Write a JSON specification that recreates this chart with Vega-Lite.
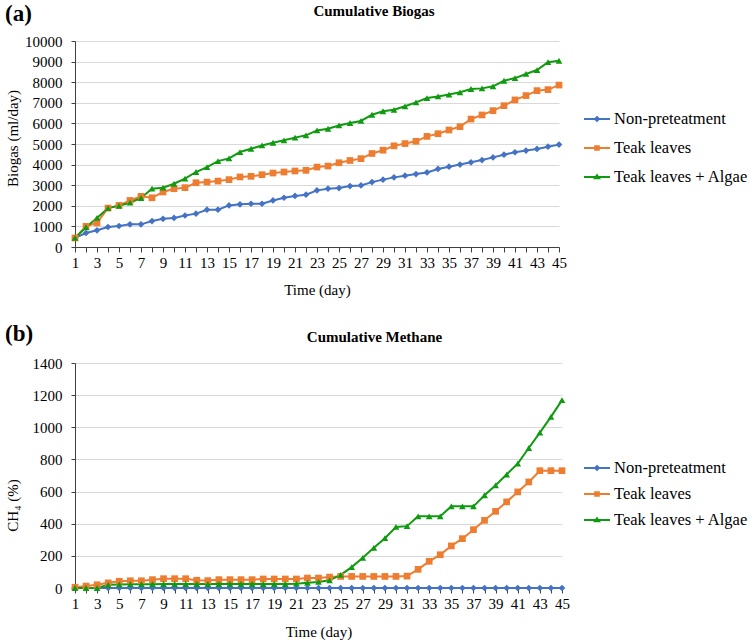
{
"$schema":"https://vega.github.io/schema/vega-lite/v6.json",
"padding":{"left":5,"top":3,"right":5,"bottom":3},
"spacing":26,
"resolve":{"scale":{"color":"independent","shape":"independent"},"legend":{"color":"independent","shape":"independent"}},
"datasets":{
"biogas":[
{"day":1,"series":"Non-preteatment","value":440},{"day":2,"series":"Non-preteatment","value":680},{"day":3,"series":"Non-preteatment","value":810},{"day":4,"series":"Non-preteatment","value":970},{"day":5,"series":"Non-preteatment","value":1020},{"day":6,"series":"Non-preteatment","value":1100},{"day":7,"series":"Non-preteatment","value":1100},{"day":8,"series":"Non-preteatment","value":1260},{"day":9,"series":"Non-preteatment","value":1370},{"day":10,"series":"Non-preteatment","value":1410},{"day":11,"series":"Non-preteatment","value":1530},{"day":12,"series":"Non-preteatment","value":1620},{"day":13,"series":"Non-preteatment","value":1810},{"day":14,"series":"Non-preteatment","value":1810},{"day":15,"series":"Non-preteatment","value":2020},{"day":16,"series":"Non-preteatment","value":2070},{"day":17,"series":"Non-preteatment","value":2100},{"day":18,"series":"Non-preteatment","value":2100},{"day":19,"series":"Non-preteatment","value":2260},{"day":20,"series":"Non-preteatment","value":2390},{"day":21,"series":"Non-preteatment","value":2480},{"day":22,"series":"Non-preteatment","value":2540},{"day":23,"series":"Non-preteatment","value":2750},{"day":24,"series":"Non-preteatment","value":2830},{"day":25,"series":"Non-preteatment","value":2860},{"day":26,"series":"Non-preteatment","value":2960},{"day":27,"series":"Non-preteatment","value":2990},{"day":28,"series":"Non-preteatment","value":3150},{"day":29,"series":"Non-preteatment","value":3270},{"day":30,"series":"Non-preteatment","value":3380},{"day":31,"series":"Non-preteatment","value":3460},{"day":32,"series":"Non-preteatment","value":3540},{"day":33,"series":"Non-preteatment","value":3620},{"day":34,"series":"Non-preteatment","value":3790},{"day":35,"series":"Non-preteatment","value":3900},{"day":36,"series":"Non-preteatment","value":4000},{"day":37,"series":"Non-preteatment","value":4110},{"day":38,"series":"Non-preteatment","value":4220},{"day":39,"series":"Non-preteatment","value":4350},{"day":40,"series":"Non-preteatment","value":4480},{"day":41,"series":"Non-preteatment","value":4600},{"day":42,"series":"Non-preteatment","value":4680},{"day":43,"series":"Non-preteatment","value":4760},{"day":44,"series":"Non-preteatment","value":4870},{"day":45,"series":"Non-preteatment","value":4970},
{"day":1,"series":"Teak leaves","value":440},{"day":2,"series":"Teak leaves","value":1000},{"day":3,"series":"Teak leaves","value":1170},{"day":4,"series":"Teak leaves","value":1890},{"day":5,"series":"Teak leaves","value":2020},{"day":6,"series":"Teak leaves","value":2260},{"day":7,"series":"Teak leaves","value":2460},{"day":8,"series":"Teak leaves","value":2390},{"day":9,"series":"Teak leaves","value":2670},{"day":10,"series":"Teak leaves","value":2830},{"day":11,"series":"Teak leaves","value":2880},{"day":12,"series":"Teak leaves","value":3120},{"day":13,"series":"Teak leaves","value":3150},{"day":14,"series":"Teak leaves","value":3200},{"day":15,"series":"Teak leaves","value":3270},{"day":16,"series":"Teak leaves","value":3400},{"day":17,"series":"Teak leaves","value":3430},{"day":18,"series":"Teak leaves","value":3510},{"day":19,"series":"Teak leaves","value":3590},{"day":20,"series":"Teak leaves","value":3640},{"day":21,"series":"Teak leaves","value":3690},{"day":22,"series":"Teak leaves","value":3720},{"day":23,"series":"Teak leaves","value":3880},{"day":24,"series":"Teak leaves","value":3930},{"day":25,"series":"Teak leaves","value":4090},{"day":26,"series":"Teak leaves","value":4200},{"day":27,"series":"Teak leaves","value":4290},{"day":28,"series":"Teak leaves","value":4540},{"day":29,"series":"Teak leaves","value":4700},{"day":30,"series":"Teak leaves","value":4910},{"day":31,"series":"Teak leaves","value":5020},{"day":32,"series":"Teak leaves","value":5130},{"day":33,"series":"Teak leaves","value":5370},{"day":34,"series":"Teak leaves","value":5500},{"day":35,"series":"Teak leaves","value":5680},{"day":36,"series":"Teak leaves","value":5840},{"day":37,"series":"Teak leaves","value":6210},{"day":38,"series":"Teak leaves","value":6410},{"day":39,"series":"Teak leaves","value":6620},{"day":40,"series":"Teak leaves","value":6860},{"day":41,"series":"Teak leaves","value":7140},{"day":42,"series":"Teak leaves","value":7350},{"day":43,"series":"Teak leaves","value":7590},{"day":44,"series":"Teak leaves","value":7640},{"day":45,"series":"Teak leaves","value":7860},
{"day":1,"series":"Teak leaves + Algae","value":440},{"day":2,"series":"Teak leaves + Algae","value":960},{"day":3,"series":"Teak leaves + Algae","value":1410},{"day":4,"series":"Teak leaves + Algae","value":1890},{"day":5,"series":"Teak leaves + Algae","value":2000},{"day":6,"series":"Teak leaves + Algae","value":2150},{"day":7,"series":"Teak leaves + Algae","value":2380},{"day":8,"series":"Teak leaves + Algae","value":2830},{"day":9,"series":"Teak leaves + Algae","value":2880},{"day":10,"series":"Teak leaves + Algae","value":3070},{"day":11,"series":"Teak leaves + Algae","value":3320},{"day":12,"series":"Teak leaves + Algae","value":3640},{"day":13,"series":"Teak leaves + Algae","value":3880},{"day":14,"series":"Teak leaves + Algae","value":4170},{"day":15,"series":"Teak leaves + Algae","value":4300},{"day":16,"series":"Teak leaves + Algae","value":4610},{"day":17,"series":"Teak leaves + Algae","value":4770},{"day":18,"series":"Teak leaves + Algae","value":4930},{"day":19,"series":"Teak leaves + Algae","value":5060},{"day":20,"series":"Teak leaves + Algae","value":5180},{"day":21,"series":"Teak leaves + Algae","value":5310},{"day":22,"series":"Teak leaves + Algae","value":5420},{"day":23,"series":"Teak leaves + Algae","value":5660},{"day":24,"series":"Teak leaves + Algae","value":5740},{"day":25,"series":"Teak leaves + Algae","value":5900},{"day":26,"series":"Teak leaves + Algae","value":6020},{"day":27,"series":"Teak leaves + Algae","value":6120},{"day":28,"series":"Teak leaves + Algae","value":6420},{"day":29,"series":"Teak leaves + Algae","value":6590},{"day":30,"series":"Teak leaves + Algae","value":6660},{"day":31,"series":"Teak leaves + Algae","value":6830},{"day":32,"series":"Teak leaves + Algae","value":7020},{"day":33,"series":"Teak leaves + Algae","value":7230},{"day":34,"series":"Teak leaves + Algae","value":7310},{"day":35,"series":"Teak leaves + Algae","value":7400},{"day":36,"series":"Teak leaves + Algae","value":7510},{"day":37,"series":"Teak leaves + Algae","value":7670},{"day":38,"series":"Teak leaves + Algae","value":7700},{"day":39,"series":"Teak leaves + Algae","value":7800},{"day":40,"series":"Teak leaves + Algae","value":8070},{"day":41,"series":"Teak leaves + Algae","value":8200},{"day":42,"series":"Teak leaves + Algae","value":8400},{"day":43,"series":"Teak leaves + Algae","value":8590},{"day":44,"series":"Teak leaves + Algae","value":8970},{"day":45,"series":"Teak leaves + Algae","value":9040}
],
"methane":[
{"day":1,"series":"Non-preteatment","value":0},{"day":2,"series":"Non-preteatment","value":0},{"day":3,"series":"Non-preteatment","value":0},{"day":4,"series":"Non-preteatment","value":0},{"day":5,"series":"Non-preteatment","value":0},{"day":6,"series":"Non-preteatment","value":0},{"day":7,"series":"Non-preteatment","value":0},{"day":8,"series":"Non-preteatment","value":0},{"day":9,"series":"Non-preteatment","value":0},{"day":10,"series":"Non-preteatment","value":0},{"day":11,"series":"Non-preteatment","value":0},{"day":12,"series":"Non-preteatment","value":0},{"day":13,"series":"Non-preteatment","value":0},{"day":14,"series":"Non-preteatment","value":0},{"day":15,"series":"Non-preteatment","value":0},{"day":16,"series":"Non-preteatment","value":0},{"day":17,"series":"Non-preteatment","value":0},{"day":18,"series":"Non-preteatment","value":0},{"day":19,"series":"Non-preteatment","value":0},{"day":20,"series":"Non-preteatment","value":0},{"day":21,"series":"Non-preteatment","value":0},{"day":22,"series":"Non-preteatment","value":0},{"day":23,"series":"Non-preteatment","value":0},{"day":24,"series":"Non-preteatment","value":0},{"day":25,"series":"Non-preteatment","value":0},{"day":26,"series":"Non-preteatment","value":0},{"day":27,"series":"Non-preteatment","value":0},{"day":28,"series":"Non-preteatment","value":0},{"day":29,"series":"Non-preteatment","value":0},{"day":30,"series":"Non-preteatment","value":0},{"day":31,"series":"Non-preteatment","value":0},{"day":32,"series":"Non-preteatment","value":0},{"day":33,"series":"Non-preteatment","value":0},{"day":34,"series":"Non-preteatment","value":0},{"day":35,"series":"Non-preteatment","value":0},{"day":36,"series":"Non-preteatment","value":0},{"day":37,"series":"Non-preteatment","value":0},{"day":38,"series":"Non-preteatment","value":0},{"day":39,"series":"Non-preteatment","value":0},{"day":40,"series":"Non-preteatment","value":0},{"day":41,"series":"Non-preteatment","value":0},{"day":42,"series":"Non-preteatment","value":0},{"day":43,"series":"Non-preteatment","value":0},{"day":44,"series":"Non-preteatment","value":0},{"day":45,"series":"Non-preteatment","value":0},
{"day":1,"series":"Teak leaves","value":5},{"day":2,"series":"Teak leaves","value":12},{"day":3,"series":"Teak leaves","value":20},{"day":4,"series":"Teak leaves","value":32},{"day":5,"series":"Teak leaves","value":42},{"day":6,"series":"Teak leaves","value":45},{"day":7,"series":"Teak leaves","value":45},{"day":8,"series":"Teak leaves","value":52},{"day":9,"series":"Teak leaves","value":58},{"day":10,"series":"Teak leaves","value":58},{"day":11,"series":"Teak leaves","value":58},{"day":12,"series":"Teak leaves","value":48},{"day":13,"series":"Teak leaves","value":46},{"day":14,"series":"Teak leaves","value":52},{"day":15,"series":"Teak leaves","value":52},{"day":16,"series":"Teak leaves","value":52},{"day":17,"series":"Teak leaves","value":52},{"day":18,"series":"Teak leaves","value":56},{"day":19,"series":"Teak leaves","value":56},{"day":20,"series":"Teak leaves","value":56},{"day":21,"series":"Teak leaves","value":56},{"day":22,"series":"Teak leaves","value":62},{"day":23,"series":"Teak leaves","value":62},{"day":24,"series":"Teak leaves","value":68},{"day":25,"series":"Teak leaves","value":72},{"day":26,"series":"Teak leaves","value":72},{"day":27,"series":"Teak leaves","value":72},{"day":28,"series":"Teak leaves","value":72},{"day":29,"series":"Teak leaves","value":72},{"day":30,"series":"Teak leaves","value":72},{"day":31,"series":"Teak leaves","value":74},{"day":32,"series":"Teak leaves","value":116},{"day":33,"series":"Teak leaves","value":166},{"day":34,"series":"Teak leaves","value":207},{"day":35,"series":"Teak leaves","value":262},{"day":36,"series":"Teak leaves","value":307},{"day":37,"series":"Teak leaves","value":363},{"day":38,"series":"Teak leaves","value":421},{"day":39,"series":"Teak leaves","value":477},{"day":40,"series":"Teak leaves","value":536},{"day":41,"series":"Teak leaves","value":598},{"day":42,"series":"Teak leaves","value":660},{"day":43,"series":"Teak leaves","value":730},{"day":44,"series":"Teak leaves","value":730},{"day":45,"series":"Teak leaves","value":730},
{"day":1,"series":"Teak leaves + Algae","value":0},{"day":2,"series":"Teak leaves + Algae","value":0},{"day":3,"series":"Teak leaves + Algae","value":0},{"day":4,"series":"Teak leaves + Algae","value":20},{"day":5,"series":"Teak leaves + Algae","value":22},{"day":6,"series":"Teak leaves + Algae","value":24},{"day":7,"series":"Teak leaves + Algae","value":24},{"day":8,"series":"Teak leaves + Algae","value":24},{"day":9,"series":"Teak leaves + Algae","value":25},{"day":10,"series":"Teak leaves + Algae","value":25},{"day":11,"series":"Teak leaves + Algae","value":25},{"day":12,"series":"Teak leaves + Algae","value":25},{"day":13,"series":"Teak leaves + Algae","value":25},{"day":14,"series":"Teak leaves + Algae","value":25},{"day":15,"series":"Teak leaves + Algae","value":25},{"day":16,"series":"Teak leaves + Algae","value":25},{"day":17,"series":"Teak leaves + Algae","value":25},{"day":18,"series":"Teak leaves + Algae","value":25},{"day":19,"series":"Teak leaves + Algae","value":25},{"day":20,"series":"Teak leaves + Algae","value":25},{"day":21,"series":"Teak leaves + Algae","value":27},{"day":22,"series":"Teak leaves + Algae","value":32},{"day":23,"series":"Teak leaves + Algae","value":38},{"day":24,"series":"Teak leaves + Algae","value":48},{"day":25,"series":"Teak leaves + Algae","value":82},{"day":26,"series":"Teak leaves + Algae","value":130},{"day":27,"series":"Teak leaves + Algae","value":188},{"day":28,"series":"Teak leaves + Algae","value":250},{"day":29,"series":"Teak leaves + Algae","value":310},{"day":30,"series":"Teak leaves + Algae","value":380},{"day":31,"series":"Teak leaves + Algae","value":385},{"day":32,"series":"Teak leaves + Algae","value":446},{"day":33,"series":"Teak leaves + Algae","value":446},{"day":34,"series":"Teak leaves + Algae","value":446},{"day":35,"series":"Teak leaves + Algae","value":508},{"day":36,"series":"Teak leaves + Algae","value":508},{"day":37,"series":"Teak leaves + Algae","value":508},{"day":38,"series":"Teak leaves + Algae","value":577},{"day":39,"series":"Teak leaves + Algae","value":639},{"day":40,"series":"Teak leaves + Algae","value":706},{"day":41,"series":"Teak leaves + Algae","value":774},{"day":42,"series":"Teak leaves + Algae","value":871},{"day":43,"series":"Teak leaves + Algae","value":967},{"day":44,"series":"Teak leaves + Algae","value":1065},{"day":45,"series":"Teak leaves + Algae","value":1169}
]
},
"vconcat":[
{
"title":{"text":"(a)","anchor":"start","frame":"bounds","fontSize":23,"fontWeight":"bold","font":"Liberation Serif","color":"#000","offset":0,"dy":22},
"vconcat":[{
"width":484,"height":206,
"title":{"text":"Cumulative Biogas","anchor":"middle","frame":"group","dx":57,"fontSize":15,"fontWeight":"bold","font":"Liberation Serif","color":"#000","offset":15},
"data":{"name":"biogas"},
"encoding":{
"x":{"field":"day","type":"quantitative","scale":{"domain":[1,45],"nice":false,"zero":false},"axis":{"title":"Time (day)","values":[1,2,3,4,5,6,7,8,9,10,11,12,13,14,15,16,17,18,19,20,21,22,23,24,25,26,27,28,29,30,31,32,33,34,35,36,37,38,39,40,41,42,43,44,45],"labelExpr":"datum.value % 2 == 1 ? datum.label : ''","labelOverlap":false,"labelFlush":false,"grid":false,"tickSize":5,"labelPadding":3,"titlePadding":12}},
"y":{"field":"value","type":"quantitative","scale":{"domain":[0,10000],"nice":false},"axis":{"title":"Biogas (ml/day)","titleY":97,"values":[0,1000,2000,3000,4000,5000,6000,7000,8000,9000,10000],"labelOverlap":false,"labelFlush":false,"format":"d","tickSize":4,"labelPadding":9,"minExtent":51,"maxExtent":51,"titlePadding":4}},
"color":{"field":"series","type":"nominal","scale":{"domain":["Non-preteatment","Teak leaves","Teak leaves + Algae"],"range":["#4472C4","#ED7D31","#109A10"]},
"legend":{"title":null,"orient":"none","legendX":508,"legendY":64,"rowPadding":6,"symbolSize":676,"symbolStrokeWidth":2,"labelOffset":3,"labelFontSize":16.5,"labelFont":"Liberation Serif","labelColor":"#000","padding":0,
"encode":{"symbols":{"update":{"shape":{"signal":"datum.value === 'Non-preteatment' ? 'M-1,0H1M0,-0.15L0.15,0L0,0.15L-0.15,0Z' : (datum.value === 'Teak leaves' ? 'M-1,0H1M-0.14,-0.14H0.14V0.14H-0.14Z' : 'M-1,0H1M0,-0.14L0.16,0.1H-0.16Z')"},"strokeWidth":{"value":2},"opacity":{"value":1}}}}}}
},
"layer":[
{"mark":{"type":"line","strokeWidth":2}},
{"mark":{"type":"point","filled":true,"size":45,"opacity":1},
"encoding":{
"shape":{"field":"series","type":"nominal","scale":{"domain":["Teak leaves","Non-preteatment","Teak leaves + Algae"],"range":["square","diamond","triangle-up"]},"legend":null}
}}
]
}]
},
{
"title":{"text":"(b)","anchor":"start","frame":"bounds","fontSize":23,"fontWeight":"bold","font":"Liberation Serif","color":"#000","offset":0,"dy":16},
"vconcat":[{
"width":487,"height":225,
"title":{"text":"Cumulative Methane","anchor":"middle","frame":"group","dx":56,"fontSize":15,"fontWeight":"bold","font":"Liberation Serif","color":"#000","offset":11},
"data":{"name":"methane"},
"encoding":{
"x":{"field":"day","type":"quantitative","scale":{"domain":[1,45],"nice":false,"zero":false},"axis":{"title":"Time (day)","values":[1,2,3,4,5,6,7,8,9,10,11,12,13,14,15,16,17,18,19,20,21,22,23,24,25,26,27,28,29,30,31,32,33,34,35,36,37,38,39,40,41,42,43,44,45],"labelExpr":"datum.value % 2 == 1 ? datum.label : ''","labelOverlap":false,"labelFlush":false,"grid":false,"tickSize":5,"labelPadding":3,"titlePadding":13}},
"y":{"field":"value","type":"quantitative","scale":{"domain":[0,1400],"nice":false},"axis":{"title":"CH₄ (%)","titleY":142,"values":[0,200,400,600,800,1000,1200,1400],"labelOverlap":false,"labelFlush":false,"format":"d","tickSize":4,"labelPadding":9,"minExtent":51,"maxExtent":51,"titlePadding":4}},
"color":{"field":"series","type":"nominal","scale":{"domain":["Non-preteatment","Teak leaves","Teak leaves + Algae"],"range":["#4472C4","#ED7D31","#109A10"]},
"legend":{"title":null,"orient":"none","legendX":508,"legendY":91,"rowPadding":3,"symbolSize":676,"symbolStrokeWidth":2,"labelOffset":3,"labelFontSize":16.5,"labelFont":"Liberation Serif","labelColor":"#000","padding":0,
"encode":{"symbols":{"update":{"shape":{"signal":"datum.value === 'Non-preteatment' ? 'M-1,0H1M0,-0.15L0.15,0L0,0.15L-0.15,0Z' : (datum.value === 'Teak leaves' ? 'M-1,0H1M-0.14,-0.14H0.14V0.14H-0.14Z' : 'M-1,0H1M0,-0.14L0.16,0.1H-0.16Z')"},"strokeWidth":{"value":2},"opacity":{"value":1}}}}}}
},
"layer":[
{"mark":{"type":"line","strokeWidth":2}},
{"mark":{"type":"point","filled":true,"size":45,"opacity":1},
"encoding":{
"shape":{"field":"series","type":"nominal","scale":{"domain":["Teak leaves","Non-preteatment","Teak leaves + Algae"],"range":["square","diamond","triangle-up"]},"legend":null}
}}
]
}]
}
],
"config":{
"font":"Liberation Serif",
"view":{"stroke":null},
"axis":{"labelFont":"Liberation Serif","titleFont":"Liberation Serif","labelFontSize":15,"titleFontSize":15,"titleFontWeight":"normal","labelColor":"#000","titleColor":"#000","gridColor":"#d9d9d9","gridWidth":1,"domainColor":"#404040","tickColor":"#404040","domainWidth":1}
}
}
